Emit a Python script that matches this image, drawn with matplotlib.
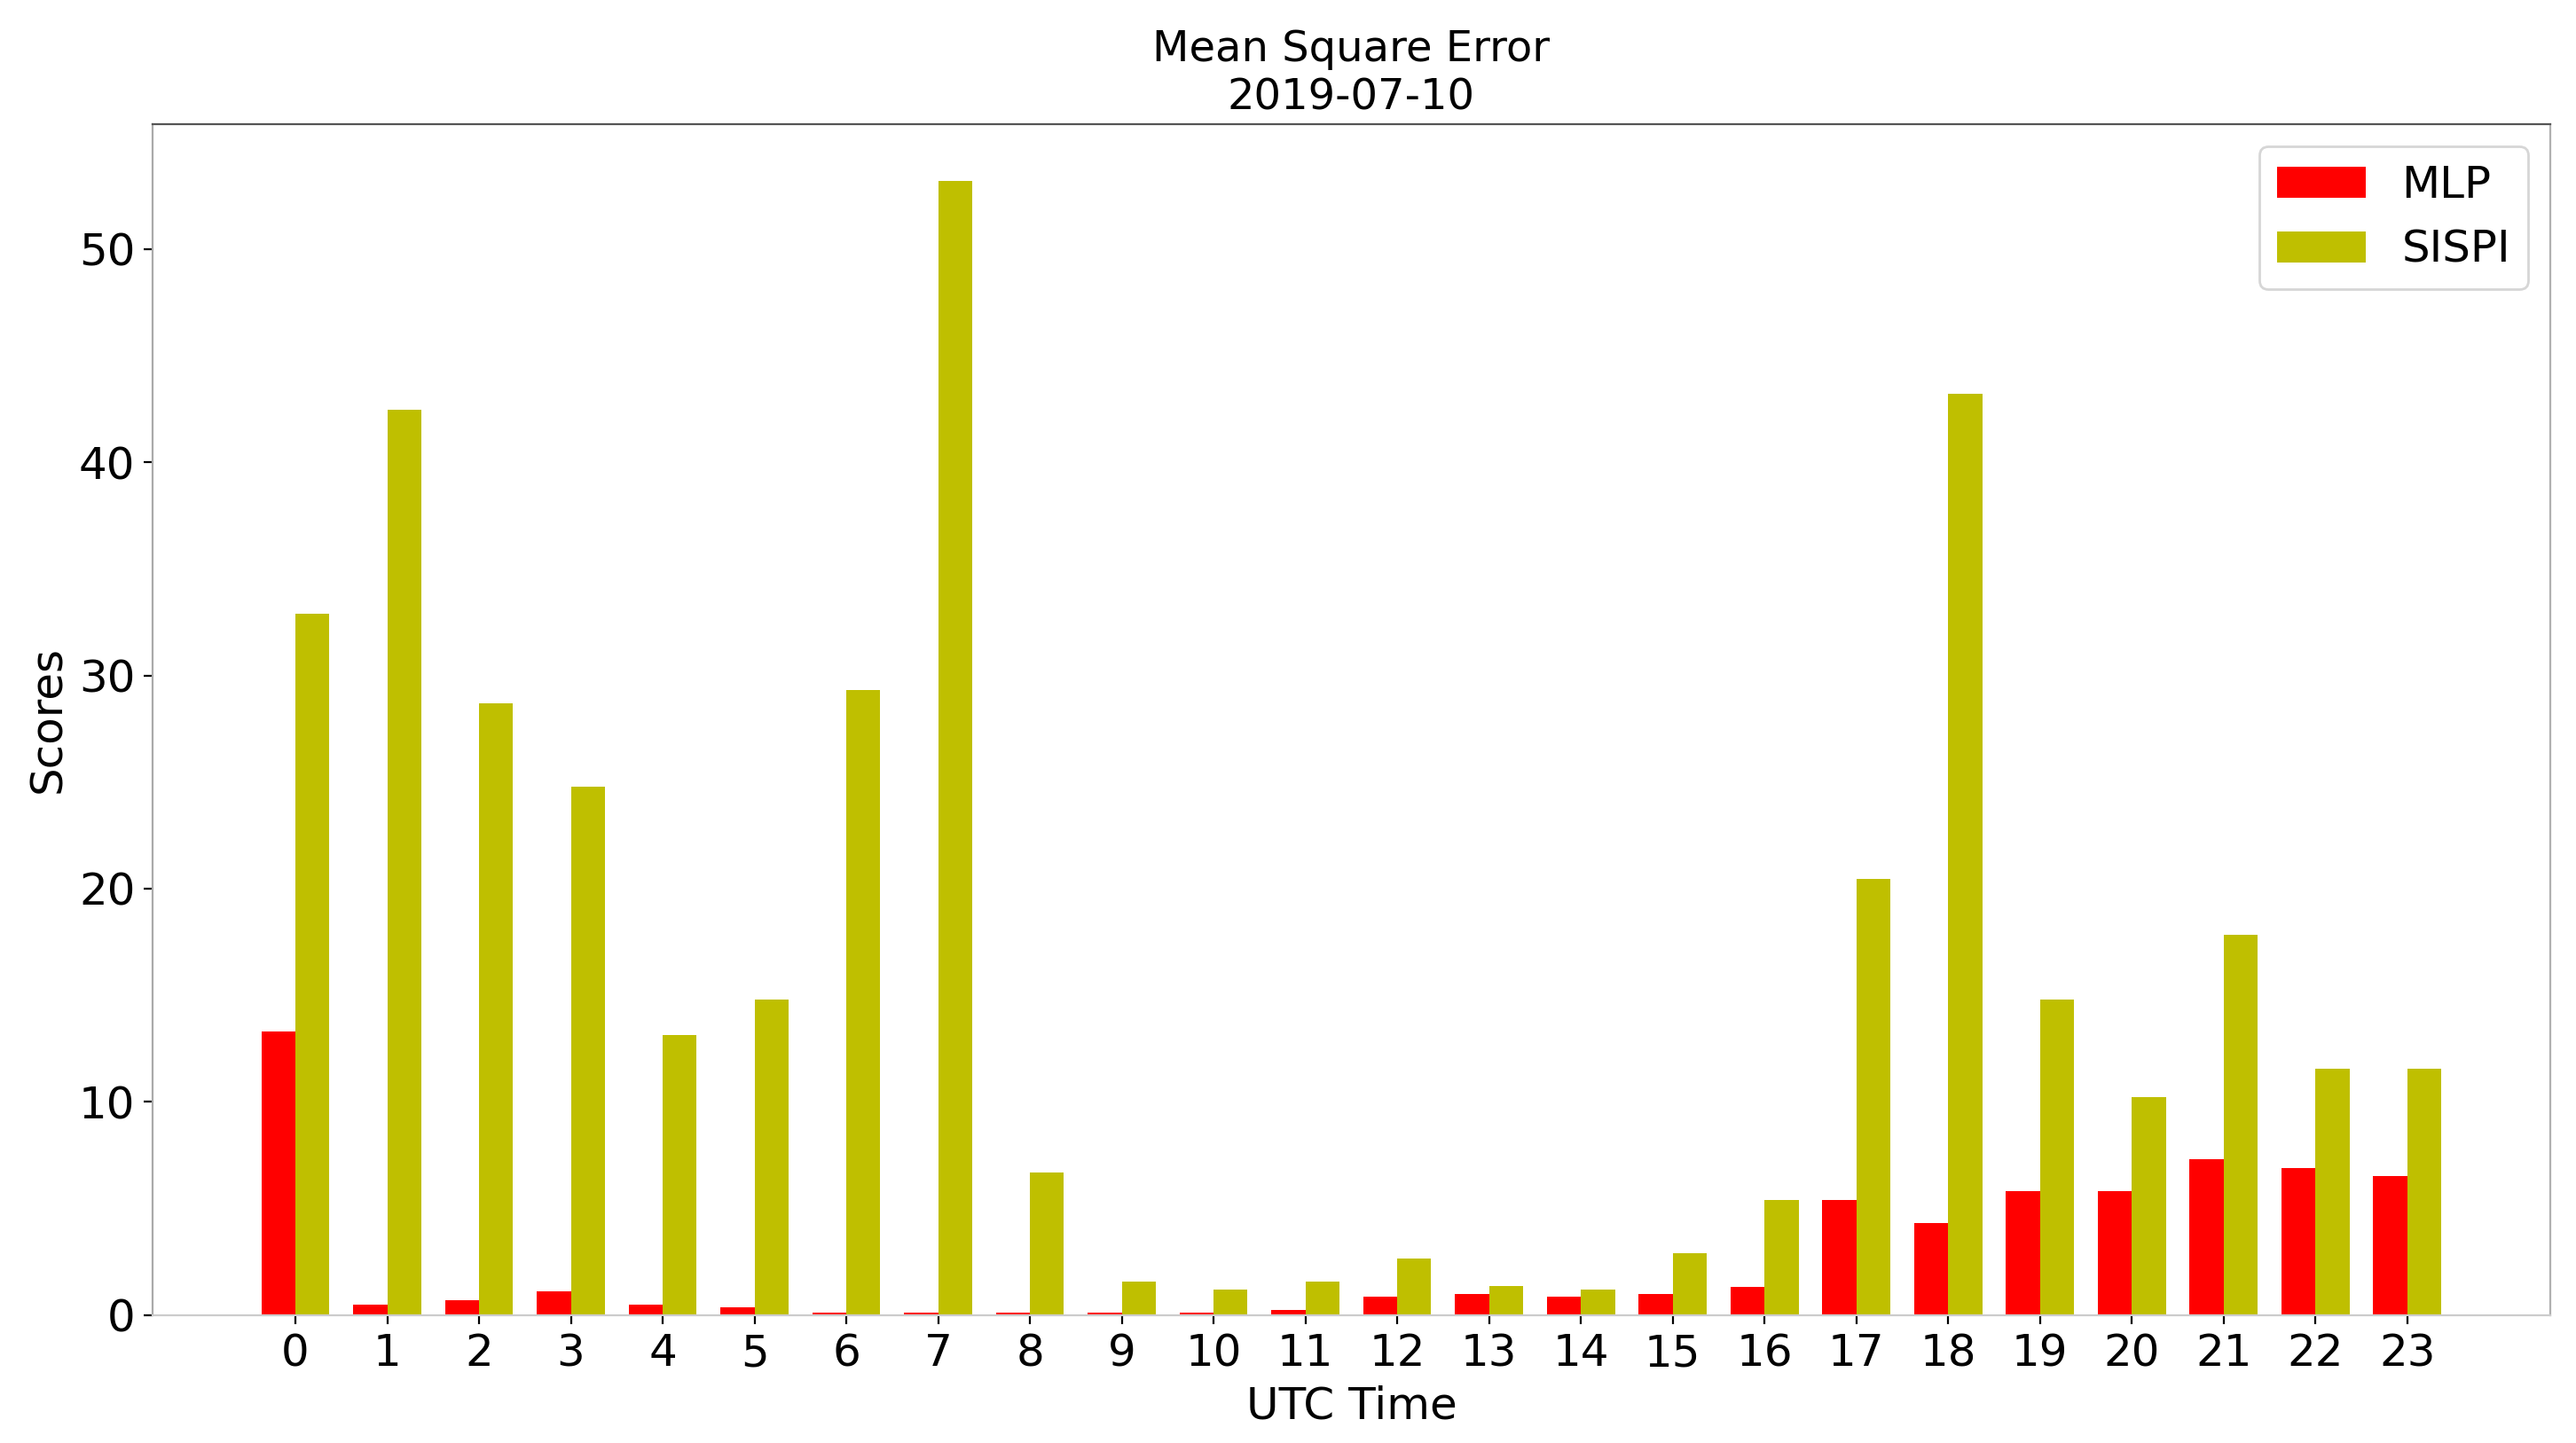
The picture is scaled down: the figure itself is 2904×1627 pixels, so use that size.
import numpy as np
import matplotlib
matplotlib.use("Agg")
import matplotlib.pyplot as plt

# hourly mean square error
hours = list(range(24))
mlp = [13.3, 0.5, 0.7, 1.1, 0.5, 0.35, 0.1, 0.1, 0.1, 0.1, 0.1, 0.25,
       0.85, 0.97, 0.85, 0.97, 1.33, 5.4, 4.3, 5.8, 5.8, 7.3, 6.9, 6.5]
sispi = [32.9, 42.45, 28.7, 24.8, 13.15, 14.8, 29.3, 53.2, 6.7, 1.55, 1.2, 1.55,
         2.65, 1.36, 1.2, 2.88, 5.4, 20.45, 43.2, 14.8, 10.2, 17.85, 11.55, 11.55]

width = 0.37
x = np.arange(len(hours))

fig = plt.figure(figsize=(14.52, 8.135), dpi=200)
ax = fig.add_axes([0.0592, 0.0887, 0.9308, 0.8253])

ax.bar(x - width / 2, mlp, width, color='r', label='MLP')
ax.bar(x + width / 2, sispi, width, color='y', label='SISPI')

ax.set_xticks(x)
ax.set_xticklabels([str(h) for h in hours])
ax.set_yticks([0, 10, 20, 30, 40, 50])
ax.tick_params(labelsize=18)

ax.set_xlabel('UTC Time', fontsize=18)
ax.set_ylabel('Scores', fontsize=18)
ax.set_title('Mean Square Error\n2019-07-10', fontsize=17.3)

# spines look greyish in the source, top one darker
ax.spines['top'].set_color('#555555')
ax.spines['left'].set_color('#aaaaaa')
ax.spines['right'].set_color('#b0b0b0')
ax.spines['bottom'].set_color('#cccccc')

ax.legend(loc='upper right', fontsize=18)

fig.savefig('out.png', dpi=200)
